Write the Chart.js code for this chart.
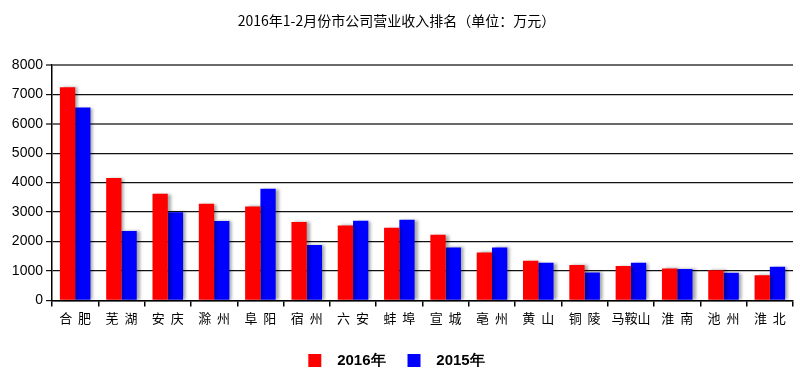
<!DOCTYPE html>
<html>
<head>
<meta charset="utf-8">
<script src="https://cdn.jsdelivr.net/npm/chart.js@4/dist/chart.umd.min.js"></script>
<style>
  html, body { margin: 0; padding: 0; background: #fff; }
  #wrap { width: 800px; height: 378px; position: relative; }
</style>
</head>
<body>
<div id="wrap"><canvas id="revChart"></canvas></div>
<script>
// ==========================================
// Data (万元)
// ==========================================

const cities = ['合  肥', '芜  湖', '安  庆', '滁  州', '阜  阳', '宿  州', '六  安', '蚌  埠',
    '宣  城', '亳  州', '黄  山', '铜  陵', '马鞍山', '淮  南', '池  州', '淮  北'];

const rev2016 = [7240, 4160, 3620, 3280, 3190, 2660, 2545, 2470,
    2230, 1630, 1345, 1200, 1170, 1085, 1020, 850];

const rev2015 = [6550, 2355, 2990, 2695, 3790, 1880, 2705, 2740,
    1800, 1800, 1280, 950, 1280, 1065, 940, 1145];

const yTicks = [0, 1000, 2000, 3000, 4000, 5000, 6000, 7000, 8000];

const titleText = '2016年1-2月份市公司营业收入排名（单位：万元）';

// ==========================================
// Plugins
// ==========================================

// soft grey drop shadow on the right of every bar
const barShadowPlugin = {
    id: 'barShadow',
    beforeDatasetsDraw(chart) {
        const ctx = chart.ctx;
        ctx.save();
        ctx.shadowColor = 'rgba(0, 0, 0, 0.35)';
        ctx.shadowOffsetX = 3;
        ctx.shadowOffsetY = 0;
        ctx.shadowBlur = 3;
    },
    afterDatasetsDraw(chart) {
        chart.ctx.restore();
    }
};

function isGreyLine(c) {
    const v = c.tick ? c.tick.value : 0;
    return v === 8000 || v === 6000;
}

// ==========================================
// Chart
// ==========================================

function createChart() {
    const ctx = document.getElementById('revChart').getContext('2d');

    new Chart(ctx, {
        type: 'bar',
        data: {
            labels: cities,
            datasets: [
                {
                    label: '  2016年',
                    data: rev2016,
                    backgroundColor: '#ff0000',
                    borderWidth: 0
                },
                {
                    label: '  2015年',
                    data: rev2015,
                    backgroundColor: '#0000ff',
                    borderWidth: 0
                }
            ]
        },
        options: {
            responsive: true,
            maintainAspectRatio: false,
            animation: false,
            layout: {
                padding: { left: 0, right: 7, top: 0, bottom: 0 }
            },
            datasets: {
                bar: {
                    categoryPercentage: 0.66,
                    barPercentage: 1.0
                }
            },
            scales: {
                x: {
                    afterFit(axis) {
                        axis.height += 1;
                    },
                    grid: {
                        offset: true,
                        drawOnChartArea: false,
                        drawTicks: true,
                        tickLength: 6,
                        color: '#000',
                        lineWidth: 1.5
                    },
                    border: { color: '#000', width: 1.5 },
                    ticks: {
                        color: '#000',
                        autoSkip: false,
                        maxRotation: 0,
                        padding: 4,
                        font: { family: '"Noto Sans CJK SC", sans-serif', size: 13 }
                    }
                },
                y: {
                    min: 0,
                    max: 8000,
                    afterBuildTicks(axis) {
                        axis.ticks = yTicks.map(function (v) { return { value: v }; });
                    },
                    afterFit(axis) {
                        axis.width = 52;
                    },
                    grid: {
                        color: function (c) { return isGreyLine(c) ? '#6a6a6a' : '#111'; },
                        lineWidth: function (c) { return isGreyLine(c) ? 2 : 1.2; },
                        tickLength: 6
                    },
                    border: { color: '#000', width: 1.5 },
                    ticks: {
                        color: '#000',
                        padding: 3,
                        callback: function (v) { return String(v); },
                        font: { family: '"Liberation Sans", Arial, sans-serif', size: 14 }
                    }
                }
            },
            plugins: {
                title: {
                    display: true,
                    text: titleText,
                    color: '#000',
                    font: { family: '"Noto Sans CJK SC", serif', size: 14, weight: 'normal' },
                    padding: { top: 12, bottom: 36 }
                },
                legend: {
                    display: true,
                    position: 'bottom',
                    labels: {
                        color: '#000',
                        boxWidth: 13,
                        boxHeight: 13,
                        padding: 22,
                        font: { family: '"Liberation Sans", Arial, sans-serif', size: 15, weight: 'bold' }
                    }
                },
                tooltip: { enabled: false }
            }
        },
        plugins: [barShadowPlugin]
    });
}

createChart();
</script>
</body>
</html>
